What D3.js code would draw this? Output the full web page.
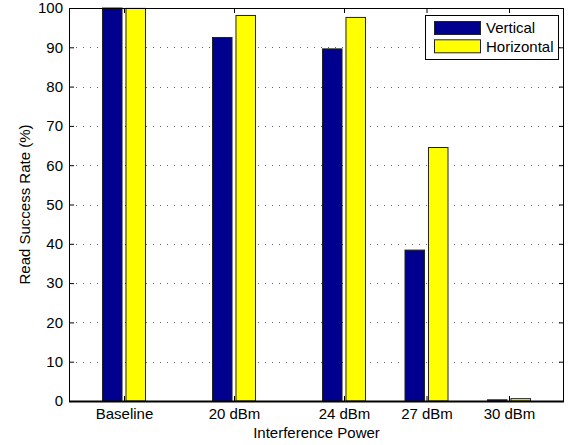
<!DOCTYPE html>
<html>
<head>
<meta charset="utf-8">
<script src="https://cdn.jsdelivr.net/npm/d3@7"></script>
<style>
  body { margin: 0; background: #fff; }
  svg { display: block; font-family: "Liberation Sans", Arial, Helvetica, sans-serif; }
</style>
</head>
<body>
<svg id="chart" width="570" height="445"></svg>
<script>
// Interference power levels (dBm position on the x axis; baseline drawn at 16)
const categories = ["Baseline", "20 dBm", "24 dBm", "27 dBm", "30 dBm"];
const positions = [16, 20, 24, 27, 30];
const seriesNames = ["Vertical", "Horizontal"];
const vertical = [100, 92.5, 89.6, 38.4, 0.3];
const horizontal = [99.9, 98.1, 97.6, 64.5, 0.6];
const yTicks = [0, 10, 20, 30, 40, 50, 60, 70, 80, 90, 100];
const colors = ["#00008f", "#ffff00"];

const svg = d3.select("#chart");
const margin = { left: 69, top: 8, right: 6, bottom: 44 };
const W = 570, H = 445;
const x0 = margin.left, x1 = W - margin.right;
const y0 = H - margin.bottom, y1 = margin.top;
const fontSize = "15px";

const x = d3.scaleLinear().domain([14, 32]).range([x0, x1]);
const y = d3.scaleLinear().domain([0, 100]).range([y0, y1]);

const barW = 0.71;      // bar width in axis units
const offset = 0.427;   // half distance between paired bar centres

// dotted horizontal grid
const grid = svg.append("g");
yTicks.slice(1, -1).forEach(t => {
  grid.append("line")
    .attr("x1", x0).attr("x2", x1)
    .attr("y1", Math.round(y(t)) + 0.5).attr("y2", Math.round(y(t)) + 0.5)
    .attr("stroke", "#000").attr("stroke-width", 1)
    .attr("stroke-dasharray", "1,6").attr("opacity", 0.6);
});

// bars
const series = [vertical, horizontal];
series.forEach((vals, si) => {
  svg.append("g").selectAll("rect")
    .data(vals)
    .join("rect")
    .attr("x", (d, i) => x(positions[i] + (si === 0 ? -offset : offset) - barW / 2))
    .attr("width", x(14 + barW) - x(14))
    .attr("y", d => y(d))
    .attr("height", d => y(0) - y(d))
    .attr("fill", colors[si])
    .attr("stroke", "#222")
    .attr("stroke-width", 1);
});

// axes with inward ticks on all four sides
const xAxisB = d3.axisBottom(x).tickValues(positions).tickFormat((d, i) => categories[i]).tickSizeInner(-5).tickSizeOuter(0).tickPadding(7);
const xAxisT = d3.axisTop(x).tickValues(positions).tickFormat("").tickSizeInner(-5).tickSizeOuter(0);
const yAxisL = d3.axisLeft(y).tickValues(yTicks).tickSizeInner(-5).tickSizeOuter(0).tickPadding(6);
const yAxisR = d3.axisRight(y).tickValues(yTicks).tickFormat("").tickSizeInner(-5).tickSizeOuter(0);

function styleAxis(g) {
  g.select(".domain").remove();
  g.selectAll("line").attr("stroke", "#000");
  g.selectAll("text").attr("fill", "#000").style("font-size", fontSize);
}
svg.append("g").attr("transform", `translate(0,${y0})`).call(xAxisB).call(styleAxis);
svg.append("g").attr("transform", `translate(0,${y1})`).call(xAxisT).call(styleAxis);
svg.append("g").attr("transform", `translate(${x0},0)`).call(yAxisL).call(styleAxis);
svg.append("g").attr("transform", `translate(${x1},0)`).call(yAxisR).call(styleAxis);

// frame
svg.append("rect")
  .attr("x", x0 + 0.5).attr("y", y1 + 0.5)
  .attr("width", x1 - x0 - 1).attr("height", y0 - y1)
  .attr("fill", "none").attr("stroke", "#000").attr("stroke-width", 1);
svg.append("line")
  .attr("x1", x0).attr("x2", x1).attr("y1", y0 + 0.5).attr("y2", y0 + 0.5)
  .attr("stroke", "#000").attr("stroke-width", 2);

// axis titles
svg.append("text")
  .attr("x", (x0 + x1) / 2).attr("y", 438)
  .attr("text-anchor", "middle").style("font-size", fontSize)
  .text("Interference Power");
svg.append("text")
  .attr("transform", `translate(29.5,${(y0 + y1) / 2}) rotate(-90)`)
  .attr("text-anchor", "middle").style("font-size", fontSize)
  .text("Read Success Rate (%)");

// legend
const lg = svg.append("g").attr("transform", "translate(425,15)");
lg.append("rect").attr("x", 0.5).attr("y", 0.5).attr("width", 133).attr("height", 44)
  .attr("fill", "#fff").attr("stroke", "#000");
seriesNames.forEach((name, i) => {
  lg.append("rect").attr("x", 9.5).attr("y", 6.5 + i * 18.3).attr("width", 46).attr("height", 13)
    .attr("fill", colors[i]).attr("stroke", "#222");
  lg.append("text").attr("x", 61).attr("y", 18.3 + i * 18.4)
    .style("font-size", fontSize).text(name);
});
</script>
</body>
</html>
